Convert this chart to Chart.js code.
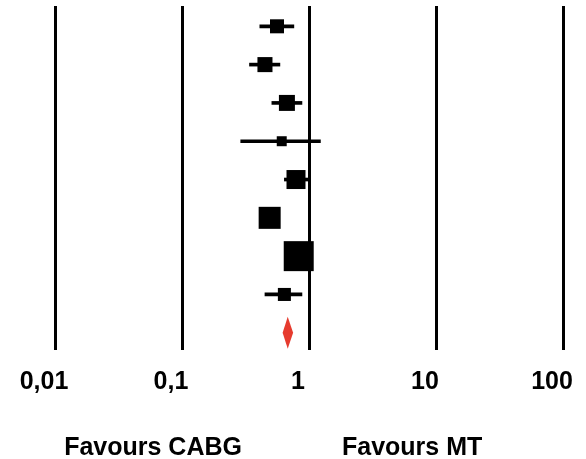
<!DOCTYPE html>
<html>
<head>
<meta charset="utf-8">
<script src="https://cdn.jsdelivr.net/npm/chart.js@4"></script>
<style>
  html, body { margin: 0; padding: 0; background: #fff; overflow: hidden; }
  #wrap { width: 586px; height: 459px; position: relative; }
  #forestChart { display: block; }
</style>
</head>
<body>
<div id="wrap"><canvas id="forestChart"></canvas></div>
<script>
  // study rows (top to bottom), odds ratios
  var rows      = [1, 2, 3, 4, 5, 6, 7, 8];
  var estimate  = [0.56, 0.45, 0.67, 0.61, 0.79, 0.49, 0.83, 0.64];
  var lower     = [0.41, 0.34, 0.51, 0.29, 0.64, 0.43, 0.73, 0.45];
  var upper     = [0.76, 0.59, 0.88, 1.23, 0.99, 0.56, 0.95, 0.88];
  var weight    = [7.3, 8.4, 9.5, 3.7, 13.4, 18.0, 33.4, 6.3];

  // pooled estimate (diamond)
  var pooledRow = 9;
  var pooled    = [0.62, 0.68, 0.75]; // lower, estimate, upper

  var tickValues = [0.01, 0.1, 1, 10, 100];
  var tickLabels = ['0,01', '0,1', '1', '10', '100'];
  var sideLabels = ['Favours CABG', 'Favours MT'];

  var FONT = "Arial, 'Liberation Sans', sans-serif";

  // pooled diamond + "favours" captions
  var forestExtras = {
    id: 'forestExtras',
    afterDatasetsDraw: function(chart) {
      var ctx = chart.ctx;
      var xs = chart.scales.x, ys = chart.scales.y;
      var yc = ys.getPixelForValue(pooledRow);
      var half = 16;
      ctx.save();
      ctx.fillStyle = '#e63b2e';
      ctx.beginPath();
      ctx.moveTo(xs.getPixelForValue(pooled[0]), yc);
      ctx.lineTo(xs.getPixelForValue(pooled[1]), yc - half);
      ctx.lineTo(xs.getPixelForValue(pooled[2]), yc);
      ctx.lineTo(xs.getPixelForValue(pooled[1]), yc + half);
      ctx.closePath();
      ctx.fill();
      ctx.restore();
    },
    afterDraw: function(chart) {
      var ctx = chart.ctx;
      var area = chart.chartArea;
      var w = area.right - area.left;
      ctx.save();
      ctx.fillStyle = '#000';
      ctx.font = 'bold 25px ' + FONT;
      ctx.textAlign = 'center';
      ctx.textBaseline = 'alphabetic';
      ctx.fillText(sideLabels[0], area.left + w * 0.193, 455);
      ctx.fillText(sideLabels[1], area.left + w * 0.703, 455);
      ctx.restore();
    }
  };

  var ciData = rows.map(function(r, i) { return { x: [lower[i], upper[i]], y: r }; });
  var ptData = rows.map(function(r, i) { return { x: estimate[i], y: r }; });

  new Chart(document.getElementById('forestChart').getContext('2d'), {
    type: 'scatter',
    data: {
      datasets: [{
        type: 'scatter',
        data: ptData,
        pointStyle: 'rect',
        pointRadius: function(c) { return 5.19 * Math.sqrt(weight[c.dataIndex]) / Math.SQRT2; },
        backgroundColor: '#000',
        borderWidth: 0,
        order: 0
      }, {
        type: 'bar',
        indexAxis: 'y',
        data: ciData,
        backgroundColor: '#000',
        barThickness: 3,
        borderWidth: 0,
        order: 1
      }]
    },
    options: {
      responsive: true,
      maintainAspectRatio: false,
      animation: false,
      layout: { autoPadding: false, padding: { left: 55, right: 23, top: 6, bottom: 45 } },
      plugins: { legend: { display: false }, tooltip: { enabled: false } },
      scales: {
        x: {
          type: 'logarithmic',
          min: 0.01,
          max: 100,
          afterBuildTicks: function(axis) {
            axis.ticks = tickValues.map(function(v) { return { value: v }; });
          },
          border: { display: false },
          grid: { color: '#000', lineWidth: 3, drawTicks: false },
          ticks: {
            padding: 2,
            labelOffset: -11,
            color: '#000',
            maxRotation: 0,
            autoSkip: false,
            font: { family: FONT, size: 25, weight: 'bold', lineHeight: 2.4 },
            callback: function(v) {
              var i = tickValues.indexOf(v);
              return i >= 0 ? tickLabels[i] : '';
            }
          }
        },
        y: {
          type: 'linear',
          display: false,
          reverse: true,
          min: 0.47,
          max: 9.45,
          offset: false
        }
      }
    },
    plugins: [forestExtras]
  });
</script>
</body>
</html>
